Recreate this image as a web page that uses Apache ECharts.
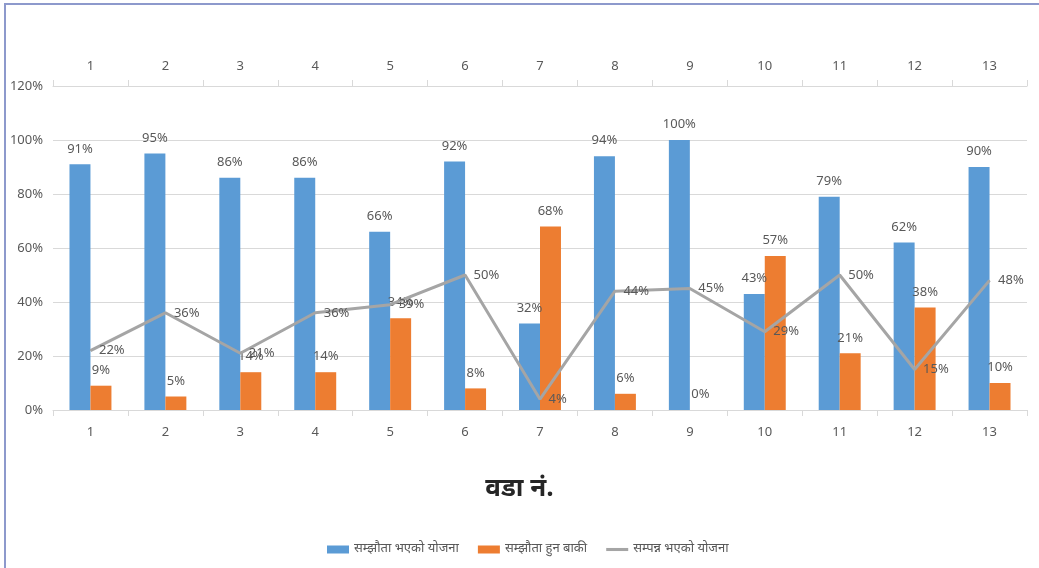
<!DOCTYPE html>
<html>
<head>
<meta charset="utf-8">
<script src="https://cdn.jsdelivr.net/npm/echarts@6/dist/echarts.min.js"></script>
<style>
html,body{margin:0;padding:0;background:#fff;}
#wrap{position:absolute;left:0;top:0;width:1039px;height:568px;}
#frame{position:absolute;left:4px;top:3px;width:1035px;height:565px;border-top:2px solid #8d99cc;border-left:2px solid #8d99cc;box-sizing:border-box;pointer-events:none;}
#chart{position:absolute;left:0;top:0;width:1039px;height:568px;}
</style>
</head>
<body>
<div id="wrap">
<div id="chart"></div>
<div id="frame"></div>
</div>
<script>
const categories = ['1','2','3','4','5','6','7','8','9','10','11','12','13'];
const agreedPlans = [91, 95, 86, 86, 66, 92, 32, 94, 100, 43, 79, 62, 90];
const pendingAgreement = [9, 5, 14, 14, 34, 8, 68, 6, 0, 57, 21, 38, 10];
const completedPlans = [22, 36, 21, 36, 39, 50, 4, 44, 45, 29, 50, 15, 48];
const yTicks = { min: 0, max: 120, interval: 20 };
const seriesNames = ['सम्झौता भएको योजना', 'सम्झौता हुन बाकी', 'सम्पन्न भएको योजना'];
const titleText = 'वडा नं.';

const FONT = '"Noto Sans", sans-serif';
const DEV = '"Noto Sans Devanagari", "Noto Sans", "Lohit Devanagari", sans-serif';
const txt = '#595959';

const chart = echarts.init(document.getElementById('chart'), null, {renderer: 'canvas'});
const labelStyle = {show: true, color: txt, fontSize: 13, fontFamily: FONT, formatter: '{c}%'};
chart.setOption({
  animation: false,
  title: {
    text: titleText, left: 'center', top: 473,
    textStyle: {fontFamily: DEV, fontSize: 26, fontWeight: 'bold', color: '#262626'}
  },
  legend: {
    bottom: 7, left: 322, itemWidth: 22, itemHeight: 8, itemGap: 19,
    textStyle: {fontFamily: DEV, fontSize: 13, color: txt},
    data: [
      {name: seriesNames[0], icon: 'rect'},
      {name: seriesNames[1], icon: 'rect'},
      {name: seriesNames[2], icon: 'path://M0,0H100V14H0Z'}
    ]
  },
  grid: {left: 53, right: 12, top: 86, bottom: 158, containLabel: false},
  xAxis: [
    {
      type: 'category', data: categories, position: 'bottom',
      axisLine: {lineStyle: {color: '#d9d9d9'}},
      axisTick: {show: true, alignWithLabel: false, length: 6, lineStyle: {color: '#d9d9d9'}},
      axisLabel: {color: txt, fontSize: 13, fontFamily: FONT, margin: 16}
    },
    {
      type: 'category', data: categories, position: 'top',
      axisLine: {show: true, lineStyle: {color: '#d9d9d9'}},
      axisTick: {show: true, length: 6, lineStyle: {color: '#d9d9d9'}},
      axisLabel: {color: txt, fontSize: 13, fontFamily: FONT, margin: 13}
    }
  ],
  yAxis: {
    type: 'value', min: yTicks.min, max: yTicks.max, interval: yTicks.interval,
    axisLine: {show: false}, axisTick: {show: false},
    axisLabel: {formatter: '{value}%', color: txt, fontSize: 13, fontFamily: FONT, margin: 10},
    splitLine: {lineStyle: {color: '#d9d9d9'}}
  },
  series: [
    {
      name: seriesNames[0], type: 'bar', data: agreedPlans, barGap: '0%', barCategoryGap: '44%',
      itemStyle: {color: '#5b9bd5'},
      label: Object.assign({position: 'top', distance: 9}, labelStyle)
    },
    {
      name: seriesNames[1], type: 'bar', data: pendingAgreement,
      itemStyle: {color: '#ed7d31'},
      label: Object.assign({position: 'top', distance: 9}, labelStyle)
    },
    {
      name: seriesNames[2], type: 'line', data: completedPlans,
      symbol: 'circle', symbolSize: 1, showSymbol: true,
      lineStyle: {color: '#a5a5a5', width: 3}, itemStyle: {color: '#a5a5a5'},
      label: Object.assign({position: 'right', distance: 8}, labelStyle),
      z: 5
    }
  ]
});
</script>
</body>
</html>
